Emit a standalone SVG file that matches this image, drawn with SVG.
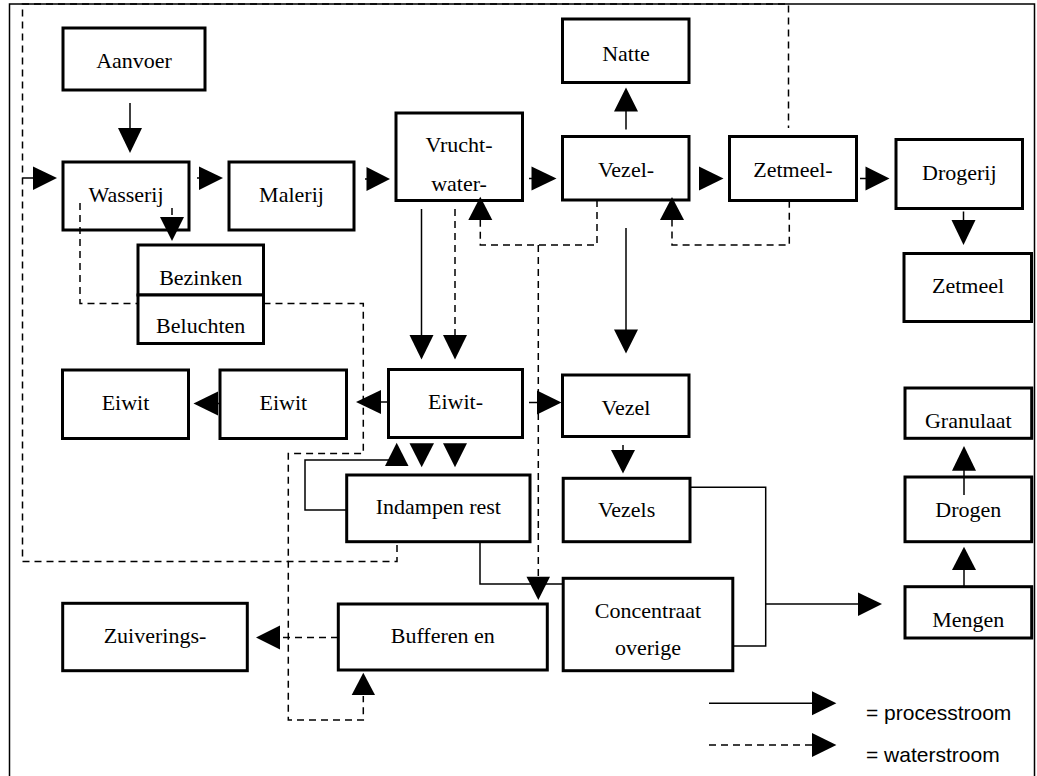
<svg xmlns="http://www.w3.org/2000/svg" width="1037" height="776" viewBox="0 0 1037 776">
<style>
.bg{fill:#fff}
.frame{fill:none;stroke:#000;stroke-width:1.5}
.box{fill:#fff;stroke:#000;stroke-width:3}
.t{font-family:"Liberation Serif","Times New Roman",serif;font-size:22px;text-anchor:middle;fill:#000}
.lg{font-family:"Liberation Sans",Arial,sans-serif;font-size:21px;fill:#000}
.ln{fill:none;stroke:#000;stroke-width:1.5}
.dl{fill:none;stroke:#000;stroke-width:1.5;stroke-dasharray:7 5}
.ah{fill:#000;stroke:none}
</style>
<rect class="bg" x="0" y="0" width="1037" height="776"/>
<path class="frame" d="M9.5,780 V4 H1034.5 V780"/>

<g id="nodes">
<g id="aanvoer"><rect class="box" x="63" y="28" width="142" height="62"/><text class="t" x="134" y="68">Aanvoer</text></g>
<g id="wasserij"><rect class="box" x="63" y="162" width="126" height="68"/><text class="t" x="126" y="202">Wasserij</text></g>
<g id="malerij"><rect class="box" x="229" y="162" width="125" height="68"/><text class="t" x="291.5" y="202">Malerij</text></g>
<g id="vruchtwater"><rect class="box" x="396" y="113" width="126.5" height="87.5"/><text class="t" x="459" y="152">Vrucht-</text><text class="t" x="459" y="190.5">water-</text></g>
<g id="natte"><rect class="box" x="562.5" y="19" width="126.5" height="63.5"/><text class="t" x="626" y="60.5">Natte</text></g>
<g id="vezelscheiding"><rect class="box" x="562.5" y="136.5" width="126.5" height="63.5"/><text class="t" x="626" y="176.5">Vezel-</text></g>
<g id="zetmeelscheiding"><rect class="box" x="729.5" y="136.5" width="127" height="64"/><text class="t" x="793" y="176.5">Zetmeel-</text></g>
<g id="drogerij"><rect class="box" x="896" y="139.5" width="126.5" height="69"/><text class="t" x="959.3" y="180">Drogerij</text></g>
<g id="zetmeel"><rect class="box" x="904" y="253.5" width="127.5" height="68"/><text class="t" x="968" y="293.3">Zetmeel</text></g>
<g id="bezinken"><rect class="box" x="138" y="245" width="125.5" height="50"/><text class="t" x="200.7" y="285">Bezinken</text></g>
<g id="beluchten"><rect class="box" x="138" y="295" width="125.5" height="48.5"/><text class="t" x="200.7" y="332.7">Beluchten</text></g>
<g id="eiwit1"><rect class="box" x="62.5" y="370" width="126" height="68.5"/><text class="t" x="125.5" y="410">Eiwit</text></g>
<g id="eiwit2"><rect class="box" x="220" y="370" width="126.5" height="68.5"/><text class="t" x="283.3" y="410">Eiwit</text></g>
<g id="eiwitwinning"><rect class="box" x="388.5" y="369.5" width="134" height="68"/><text class="t" x="455.5" y="409.3">Eiwit-</text></g>
<g id="vezel"><rect class="box" x="562.5" y="375" width="126.5" height="61.5"/><text class="t" x="626" y="415">Vezel</text></g>
<g id="indampen"><rect class="box" x="346.7" y="475" width="183.3" height="66.7"/><text class="t" x="438.3" y="514">Indampen rest</text></g>
<g id="vezels"><rect class="box" x="563.2" y="478.3" width="126.8" height="63.4"/><text class="t" x="626.6" y="517.3">Vezels</text></g>
<g id="concentraat"><rect class="box" x="563.2" y="578.3" width="169.6" height="92.4"/><text class="t" x="648" y="618.3">Concentraat</text><text class="t" x="648" y="655">overige</text></g>
<g id="granulaat"><rect class="box" x="905" y="388" width="126.7" height="50.3"/><text class="t" x="968.3" y="428.3">Granulaat</text></g>
<g id="drogen"><rect class="box" x="905" y="477" width="126.7" height="64.7"/><text class="t" x="968.3" y="516.7">Drogen</text></g>
<g id="mengen"><rect class="box" x="905" y="586.7" width="126.7" height="51.3"/><text class="t" x="968.3" y="626.7">Mengen</text></g>
<g id="bufferen"><rect class="box" x="338.3" y="604" width="209" height="66"/><text class="t" x="442.8" y="643.3">Bufferen en</text></g>
<g id="zuivering"><rect class="box" x="62.7" y="603.3" width="184.6" height="67.4"/><text class="t" x="155" y="643.3">Zuiverings-</text></g>
</g>

<g id="connectors">
<!-- process flows (solid) -->
<line class="ln" x1="130" y1="103" x2="130" y2="130"/><polygon class="ah" points="118,128 142,128 130,153"/>
<line class="ln" x1="197" y1="178" x2="201" y2="178"/><polygon class="ah" points="199,166.5 199,190 223,178"/>
<line class="ln" x1="365" y1="179" x2="368" y2="179"/><polygon class="ah" points="366.5,167 366.5,191 390,179"/>
<line class="ln" x1="529" y1="178.5" x2="533" y2="178.5"/><polygon class="ah" points="531.5,166.5 531.5,190.5 556.5,178.5"/>
<polygon class="ah" points="699,166.5 699,190.5 723.5,178.5"/>
<line class="ln" x1="860" y1="178.5" x2="867" y2="178.5"/><polygon class="ah" points="865.5,166.5 865.5,190.5 889.5,178.5"/>
<line class="ln" x1="963.5" y1="211.5" x2="963.5" y2="221"/><polygon class="ah" points="951.5,220 975.5,220 963.5,245"/>
<line class="ln" x1="626" y1="129.5" x2="626" y2="110"/><polygon class="ah" points="614,111.5 638,111.5 626,87.5"/>
<line class="ln" x1="421.5" y1="209" x2="421.5" y2="336"/><polygon class="ah" points="409.5,335 433.5,335 421.5,359.5"/>
<line class="ln" x1="626" y1="228" x2="626" y2="330.5"/><polygon class="ah" points="614,329.5 638,329.5 626,353.5"/>
<line class="ln" x1="388" y1="402" x2="379" y2="402"/><polygon class="ah" points="381,390 381,414 356,402"/>
<line class="ln" x1="220" y1="403.5" x2="216" y2="403.5"/><polygon class="ah" points="218,391.5 218,415.5 193.5,403.5"/>
<line class="ln" x1="529" y1="402.5" x2="539" y2="402.5"/><polygon class="ah" points="537,390.5 537,414.5 561.5,402.5"/>
<polyline class="ln" points="347,510 305,510 305,460 390,460"/><polygon class="ah" points="385,466 408.5,466 396.7,442.7"/>
<polygon class="ah" points="409.5,443.3 434,443.3 421.7,467.3"/>
<polygon class="ah" points="443,443.3 467,443.3 455,467.3"/>
<line class="ln" x1="623" y1="445" x2="623" y2="451"/><polygon class="ah" points="611,450 635,450 623,473.5"/>
<polyline class="ln" points="480,541.7 480,584 563,584"/>
<polyline class="ln" points="690,487.3 765.7,487.3 765.7,646 733,646"/>
<line class="ln" x1="765.7" y1="604" x2="859" y2="604"/><polygon class="ah" points="858,592.5 858,616 882,604"/>
<line class="ln" x1="964" y1="586.7" x2="964" y2="569"/><polygon class="ah" points="952,570 976,570 964,546.7"/>
<line class="ln" x1="964" y1="495" x2="964" y2="469.5"/><polygon class="ah" points="952,470.7 976,470.7 964,446"/>
<!-- water flows (dashed) -->
<polyline class="dl" points="397,545 397,561.5 22.5,561.5 22.5,4 788.5,4 788.5,128"/>
<line class="ln" x1="22.5" y1="178" x2="34" y2="178"/><polygon class="ah" points="33,166.5 33,190 57,178"/>
<line class="dl" x1="172" y1="208" x2="172" y2="218"/><polygon class="ah" points="160,217 184,217 172,241"/>
<polyline class="dl" points="80,203 80,303.5 138,303.5"/>
<polyline class="dl" points="263.5,303.5 363.3,303.5 363.3,453.5 288.3,453.5 288.3,720 363.3,720 363.3,696"/>
<polygon class="ah" points="351.7,695 375,695 363.3,672.7"/>
<line class="dl" x1="455" y1="209" x2="455" y2="336"/><polygon class="ah" points="443,335 467,335 455,359.5"/>
<polyline class="dl" points="597,200 597,245 480.3,245 480.3,219"/><polygon class="ah" points="468.3,220 492.3,220 480.3,196.7"/>
<line class="dl" x1="538.3" y1="245" x2="538.3" y2="578"/><polygon class="ah" points="526.5,576.7 550,576.7 538.3,600"/>
<polyline class="dl" points="789.3,200.7 789.3,245 672,245 672,219"/><polygon class="ah" points="660,220 684,220 672,197"/>
<line class="dl" x1="338" y1="637.5" x2="279" y2="637.5"/><polygon class="ah" points="280,625.5 280,649.5 256,637.5"/>
</g>

<g id="legend">
<line class="ln" x1="709" y1="703.3" x2="813" y2="703.3"/><polygon class="ah" points="812,691.3 812,715.3 836.4,703.3"/>
<text class="lg" x="866" y="720">= processtroom</text>
<line class="dl" x1="709" y1="745" x2="813" y2="745"/><polygon class="ah" points="812,733 812,757 836.4,745"/>
<text class="lg" x="866" y="761.7">= waterstroom</text>
</g>
</svg>
